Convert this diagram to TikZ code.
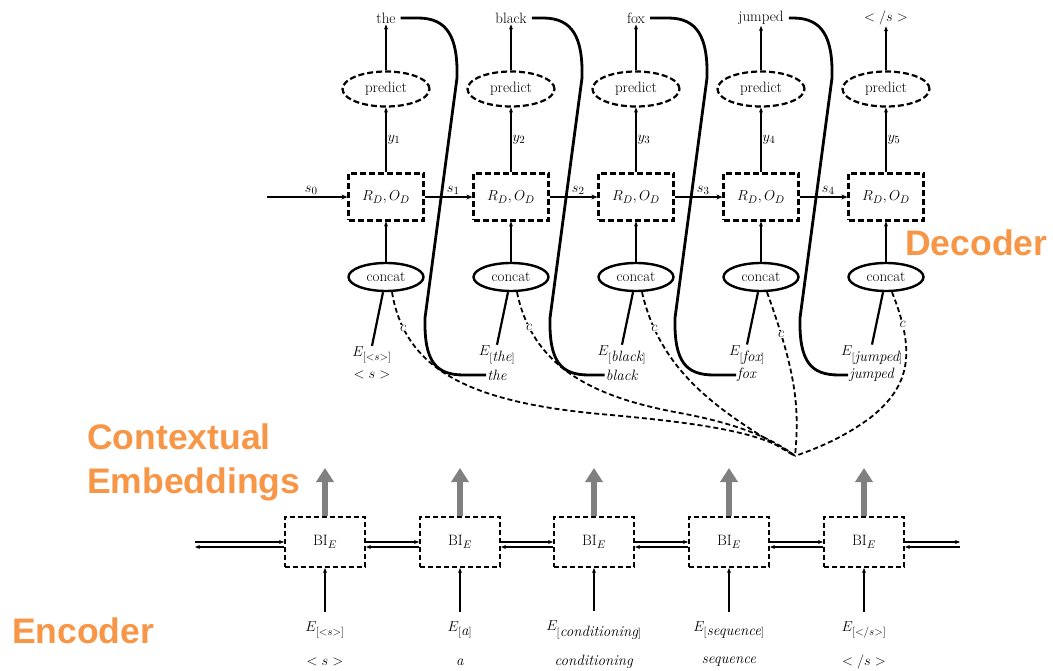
\documentclass[tikz,border=0pt]{standalone}
\usepackage{fontspec}
\newfontfamily\labelfont{Liberation Sans}
\usetikzlibrary{arrows.meta,shapes.geometric}
\definecolor{accent}{RGB}{247,150,70}
\definecolor{upgray}{RGB}{128,128,128}

\begin{document}
\begin{tikzpicture}[x=1pt,y=-1pt,
  txt/.style={font=\fontsize{15}{17}\selectfont, inner sep=1pt},
  small/.style={font=\fontsize{14}{15}\selectfont, inner sep=0.3pt},
  rbox/.style={txt, draw, line width=2.2pt, dash pattern=on 6pt off 3pt,
               minimum width=75pt, minimum height=47pt},
  pred/.style={txt, ellipse, draw, line width=2.2pt, dash pattern=on 6pt off 3pt,
               minimum width=87pt, minimum height=35pt, inner sep=0pt},
  cat/.style={txt, ellipse, draw, line width=2.4pt,
              minimum width=75pt, minimum height=28pt, inner sep=0pt},
  ebox/.style={txt, draw, line width=2pt, dash pattern=on 5pt off 3pt,
               minimum width=80pt, minimum height=50pt},
  thinarrow/.style={line width=1.1pt, -{Stealth[length=5pt,width=4pt]}},
  stateflow/.style={line width=2.4pt, -{Stealth[length=6pt,width=5pt]}},
  feed/.style={line width=2.8pt},
  attn/.style={line width=1.8pt, dash pattern=on 5pt off 3pt},
  ctxarrow/.style={line width=6pt, draw=upgray, -{Triangle[length=14pt,width=17pt]}},
  tag/.style={font=\labelfont\bfseries\fontsize{35.5}{44}\selectfont,
              text=accent, inner sep=0pt, align=left},
]
\fill[white] (0,0) rectangle (1053,671);
\path[use as bounding box] (0,0) rectangle (1053,671);

% ---------------- decoder ----------------
\foreach \i/\x in {1/386,2/511,3/636,4/761,5/886}{
  \node[rbox] (r\i) at (\x,197) {$R_D,O_D$};
  \node[pred] (p\i) at (\x,89) {predict};
  \node[cat]  (c\i) at (\x,277) {concat};
}

% generated words
\node[txt] (w1) at (386,18) {the};
\node[txt] (w2) at (511,18) {black};
\node[txt] (w3) at (636,18) {fox};
\node[txt] (w4) at (761,18) {jumped};
\node[txt] (w5) at (886,18) {$</s>$};

% embeddings of the previous words
\node[txt] (e1)  at (372,355) {$E_{[<s>]}$};
\node[txt] (ew1) at (372,375) {$<s>$};
\node[txt] (e2)  at (497,355) {$E_{[\textit{the}]}$};
\node[txt] (ew2) at (497,375) {\textit{the}};
\node[txt] (e3)  at (622,355) {$E_{[\textit{black}]}$};
\node[txt] (ew3) at (622,375) {\textit{black}};
\node[txt] (e4)  at (747,355) {$E_{[\textit{fox}]}$};
\node[txt] (ew4) at (747,375) {\textit{fox}};
\node[txt] (e5)  at (872,355) {$E_{[\textit{jumped}]}$};
\node[txt] (ew5) at (872,375) {\textit{jumped}};

\foreach \i in {1,...,5}{
  \draw[thinarrow] (p\i.north) -- (w\i.south);
  \draw[thinarrow] (r\i.north) -- node[txt,right] {$y_\i$} (p\i.south);
  \draw[thinarrow] (c\i.north) -- (r\i.south);
  \draw[line width=2.2pt] ([xshift=-3pt]c\i.south) -- (e\i.north);
}

% recurrent state
\coordinate (s0) at (267,197);
\draw[stateflow] (s0) -- node[txt,above,pos=0.55] {$s_0$} (r1.west);
\foreach \i/\j in {1/2,2/3,3/4,4/5}
  \draw[stateflow] (r\i.east) -- node[txt,above,pos=0.6] {$s_\i$} (r\j.west);

% each prediction is fed back as the next input
\foreach \i/\j/\x in {1/2/386,2/3/511,3/4/636,4/5/761}
  \draw[feed] ([xshift=4pt]w\i.east) -- (\x+32,18)
     .. controls (\x+62,18) and (\x+72,38) .. (\x+71,78)
     -- (\x+39,318)
     .. controls (\x+38,362) and (\x+50,375) .. (\x+78,375)
     -- (ew\j.west);

% attention context vectors
\coordinate (att) at (795,456);
\draw[attn] ([xshift=6pt]c1.south)
   .. controls (405,370) and (470,402) .. node[small,fill=white,pos=0.17] (cl1) {$c$} (600,414)
   .. controls (700,423) and (765,432) .. (att);
\draw[attn] ([xshift=6pt]c2.south)
   .. controls (533,370) and (598,398) .. node[small,fill=white,pos=0.17] (cl2) {$c$} (680,413)
   .. controls (740,424) and (775,440) .. (att);
\draw[attn] ([xshift=6pt]c3.south)
   .. controls (660,370) and (715,410) .. node[small,fill=white,pos=0.17] (cl3) {$c$} (att);
\draw[attn] ([xshift=6pt]c4.south)
   .. controls (795,370) and (800,405) .. node[small,fill=white,pos=0.2] (cl4) {$c$} (att);
\draw[attn] ([xshift=6pt]c5.south)
   .. controls (915,350) and (912,385) .. node[small,fill=white,pos=0.2] (cl5) {$c$} (870,418)
   .. controls (840,440) and (812,450) .. (att);

% ---------------- encoder ----------------
\node[txt] (ie1) at (325,630) {$E_{[<s>]}$};
\node[txt] (iw1) at (325,662) {$<s>$};
\node[txt] (ie2) at (460,630) {$E_{[\textit{a}]}$};
\node[txt] (iw2) at (460,662) {\textit{a}};
\node[txt] (ie3) at (594,630) {$E_{[\textit{conditioning}]}$};
\node[txt] (iw3) at (594,662) {\textit{conditioning}};
\node[txt] (ie4) at (729,630) {$E_{[\textit{sequence}]}$};
\node[txt] (iw4) at (729,662) {\textit{sequence}};
\node[txt] (ie5) at (864,630) {$E_{[</s>]}$};
\node[txt] (iw5) at (864,662) {$</s>$};

\foreach \i/\x in {1/325,2/460,3/594,4/729,5/864}{
  \node[ebox] (h\i) at (\x,542) {$\mathrm{BI}_E$};
  \coordinate (ctx\i) at (\x,468);
  \draw[ctxarrow] (h\i.north) -- (ctx\i);
  \draw[thinarrow] ([yshift=9pt]ie\i.north) -- (h\i.south);
}

% forward and backward passes
\coordinate (inL) at (195,542);
\coordinate (inR) at (960,542);
\draw[thinarrow] (inL) -- (h1.west);
\draw[thinarrow] ([yshift=-5pt]h1.west) -- ([yshift=-5pt]inL);
\foreach \i/\j in {1/2,2/3,3/4,4/5}{
  \draw[thinarrow] (h\i.east) -- (h\j.west);
  \draw[thinarrow] ([yshift=-5pt]h\j.west) -- ([yshift=-5pt]h\i.east);
}
\draw[thinarrow] (h5.east) -- (inR);
\draw[thinarrow] ([yshift=-5pt]inR) -- ([yshift=-5pt]h5.east);

% ---------------- section labels ----------------
\node[tag, anchor=west] (tdec) at (905,243) {Decoder};
\node[tag, anchor=west] (tctx) at (87,462) {Contextual\\Embeddings};
\node[tag, anchor=west] (tenc) at (12,631) {Encoder};
\end{tikzpicture}
\end{document}
